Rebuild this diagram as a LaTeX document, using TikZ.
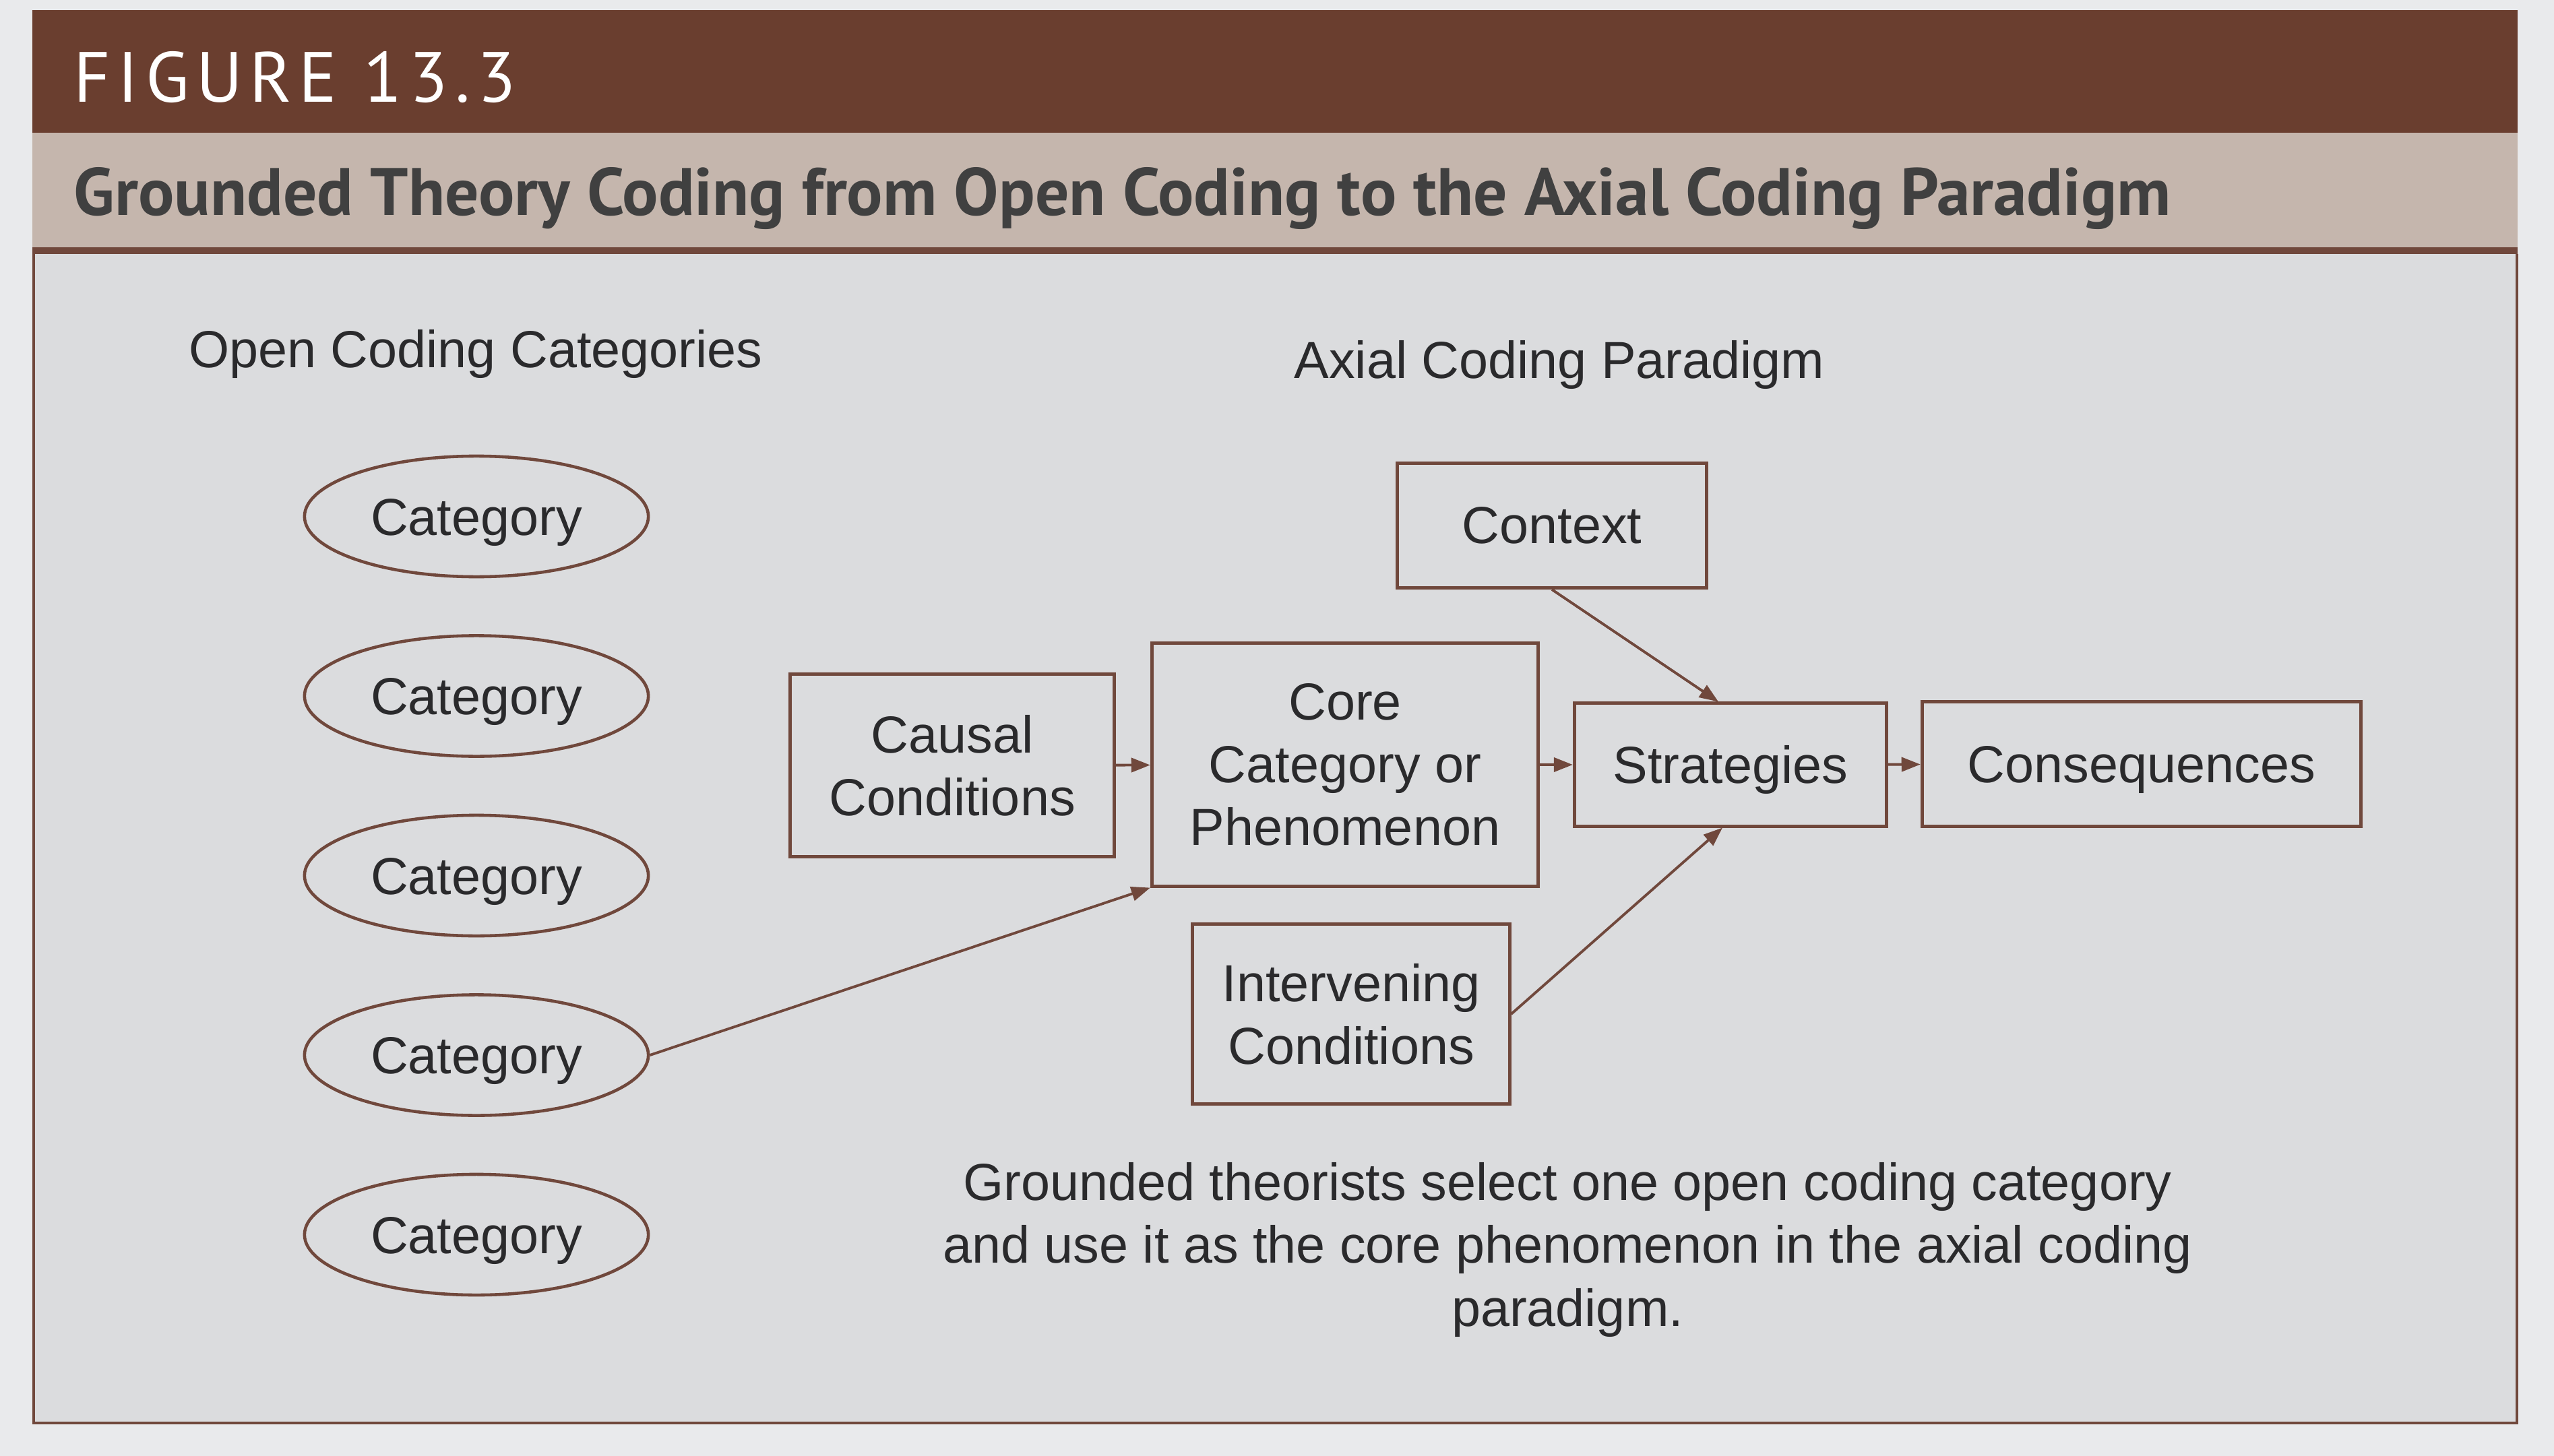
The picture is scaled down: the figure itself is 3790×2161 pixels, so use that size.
\documentclass[tikz,border=0pt]{standalone}
\usepackage{fontspec}
\setmainfont{Liberation Sans}
\newfontfamily\headfont{PT Sans}
\newfontfamily\figfont[LetterSpace=10]{PT Sans}
\usepackage{xcolor}
\usetikzlibrary{shapes.geometric,arrows.meta}

\definecolor{headbrown}{RGB}{106,62,47}
\definecolor{bandtan}{RGB}{197,182,173}
\definecolor{bodygrey}{RGB}{219,220,222}
\definecolor{paper}{RGB}{233,234,236}
\definecolor{linebrown}{RGB}{112,72,60}
\definecolor{inkgrey}{RGB}{42,42,44}

\begin{document}
\begin{tikzpicture}[x=0.01cm,y=-0.01cm,
	every node/.style={font=\fontsize{22}{26.5}\selectfont,text=inkgrey},
	oneline/.style={text height=22pt,text depth=6.25pt},
	catbox/.style={draw=linebrown,line width=1.3pt,ellipse,minimum width=5.1cm,minimum height=1.79cm,inner sep=0pt,oneline},
	axbox/.style={draw=linebrown,line width=1.4pt,rectangle,inner sep=0pt,align=center},
	flow/.style={draw=linebrown,line width=1.1pt,-{Triangle[length=8pt,width=6pt]}}]
				\fill[paper] (0,0) rectangle (3790,2161);
				\fill[bodygrey] (50,370) rectangle (3735,2112);
				\fill[headbrown] (48,15) rectangle (3736,197);
				\fill[bandtan] (48,197) rectangle (3736,367);
				\fill[linebrown] (48,367) rectangle (3736,377);
				\draw[linebrown,line width=1.2pt] (50,377) -- (50,2112) -- (3735,2112) -- (3735,377);
				
				\node[anchor=base west,inner sep=0pt,text=white,font=\figfont\fontsize{30}{31}\selectfont] (fig) at (109,152) {FIGURE 13.3};
				\node[anchor=base west,inner sep=0pt,text=black!75,font=\headfont\bfseries\fontsize{28.3}{30}\selectfont] (title) at (109,320) {Grounded Theory Coding from Open Coding to the Axial Coding Paradigm};
				
				\node[anchor=base,inner sep=0pt] (opentitle) at (706,546) {Open Coding Categories};
				\node[anchor=base,inner sep=0pt] (axialtitle) at (2314,561) {Axial Coding Paradigm};
				
				\foreach \i in {1,...,5} {
					\node[catbox] (cat\i) at (707,{500+266.5*\i}) {Category};
				}
				
				\node[axbox,minimum width=4.8cm,minimum height=2.7cm] (causal) at (1413,1136) {Causal\\Conditions};
				\node[axbox,minimum width=5.73cm,minimum height=3.6cm] (core) at (1996,1135) {Core\\Category or\\Phenomenon};
				\node[axbox,minimum width=4.59cm,minimum height=1.85cm] (context) at (2303,780) {Context};
				\node[axbox,oneline,minimum width=4.63cm,minimum height=1.82cm] (strat) at (2568,1135) {Strategies};
				\node[axbox,oneline,minimum width=6.51cm,minimum height=1.85cm] (conseq) at (3178,1134) {Consequences};
				\node[axbox,minimum width=4.7cm,minimum height=2.67cm] (interv) at (2005,1505) {Intervening\\Conditions};
				
				\node[anchor=north,inner sep=0pt,align=center] (note) at (2326,1725) {Grounded theorists select one open coding category\\and use it as the core phenomenon in the axial coding\\paradigm.};
				
				\draw[flow] (causal) -- (core);
				\draw[flow] (core) -- (strat);
				\draw[flow] (strat) -- (conseq);
				\draw[flow] (context.south) -- ([xshift=-0.18cm]strat.north);
				\draw[flow] (interv.east) -- ([xshift=-0.12cm]strat.south);
				\draw[flow] (cat4.east) -- (core.south west);
			\end{tikzpicture}
\end{document}
